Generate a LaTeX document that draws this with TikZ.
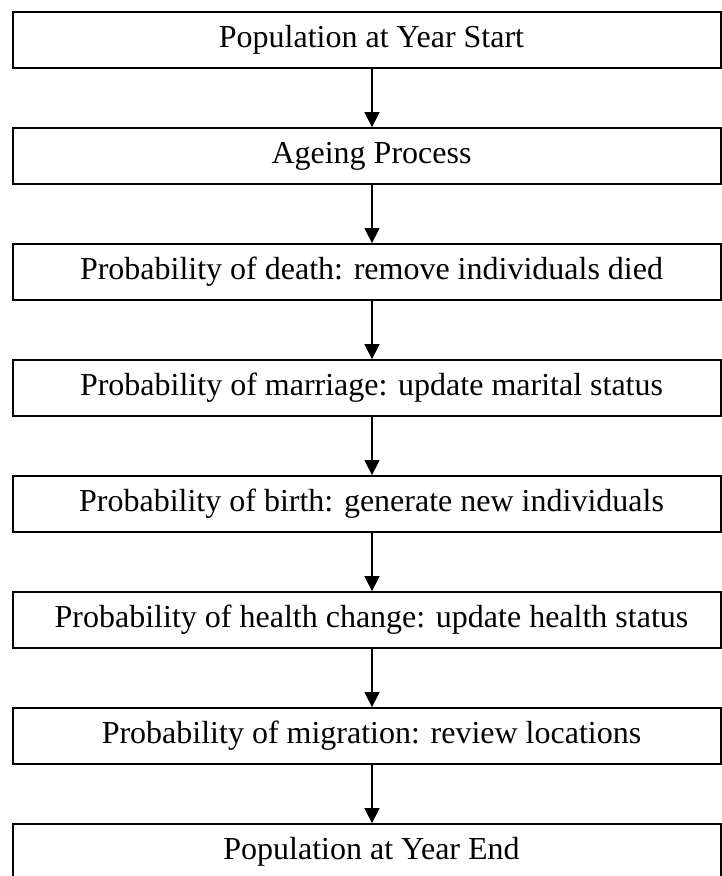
\documentclass[tikz,border=0pt]{standalone}
\usepackage{fontspec}
\setmainfont{Liberation Serif}
\usetikzlibrary{arrows.meta}
\tikzset{
  stagebox/.style={draw=black, line width=1.8pt, rectangle, minimum width=708pt,
    minimum height=56pt, inner sep=0pt},
  stagetext/.style={font=\fontsize{32}{36}\selectfont, inner sep=0pt},
  flowarrow/.style={line width=1.6pt, -{Triangle[length=15pt,width=15pt]}}
}
\begin{document}
\begin{tikzpicture}[x=1pt,y=1pt]
  \useasboundingbox (0,0) rectangle (722,876);
  \clip (0,0) rectangle (722,876);
  % vertical line shared by all arrows
  \coordinate (ax) at (372,0);
  \foreach \i/\txt in {
      1/Population at Year Start,
      2/Ageing Process,
      3/Probability of death: remove individuals died,
      4/Probability of marriage: update marital status,
      5/Probability of birth: generate new individuals,
      6/Probability of health change: update health status,
      7/Probability of migration: review locations,
      8/Population at Year End}{
    \node[stagebox, label={[stagetext, xshift=4.5pt]center:\txt}]
      (b\i) at (367, {876-40-116*(\i-1)}) {};
  }
  \foreach \a/\b in {1/2,2/3,3/4,4/5,5/6,6/7,7/8}{
    \draw[flowarrow] (b\a.south -| ax) -- (b\b.north -| ax);
  }
\end{tikzpicture}
\end{document}
